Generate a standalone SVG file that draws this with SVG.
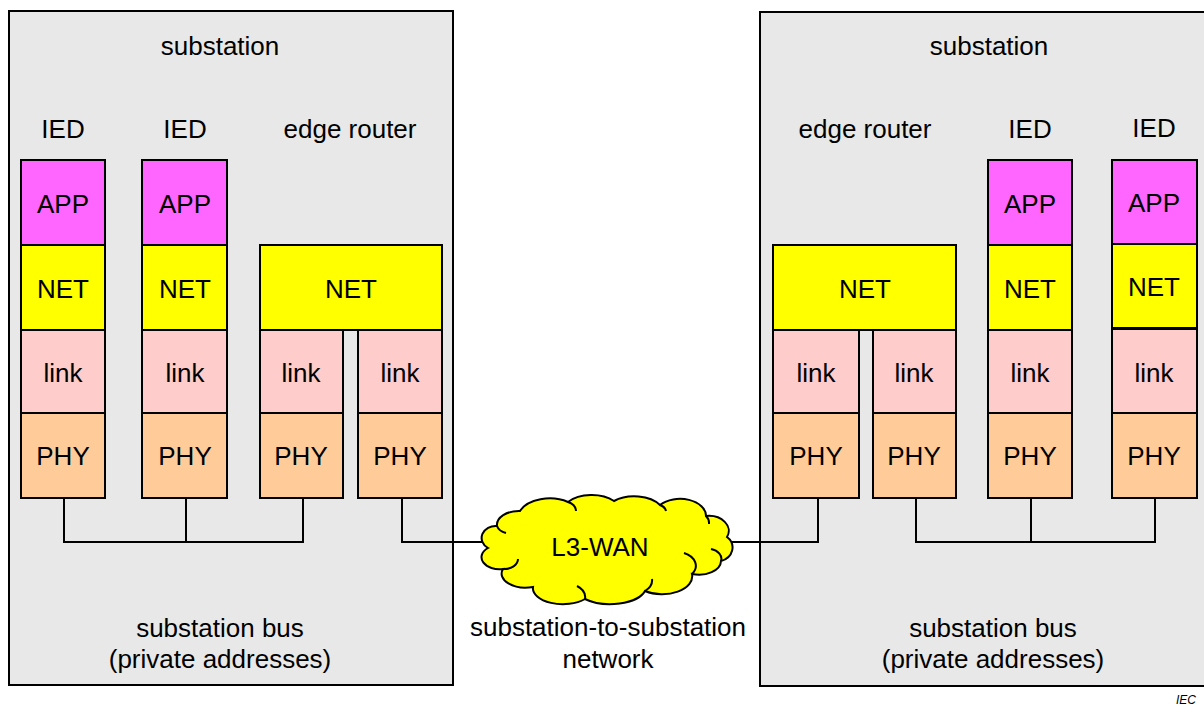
<svg xmlns="http://www.w3.org/2000/svg" width="1204" height="706" viewBox="0 0 1204 706">
<style>
text{font-family:"Liberation Sans",Arial,sans-serif;font-size:26px;fill:#000;text-anchor:middle}
.box{fill:#e8e8e8;stroke:#000;stroke-width:2}
.app{fill:#ff66ff;stroke:#000;stroke-width:2}
.net{fill:#ffff00;stroke:#000;stroke-width:2}
.lnk{fill:#ffcccc;stroke:#000;stroke-width:2}
.phy{fill:#ffcc99;stroke:#000;stroke-width:2}
.wire{fill:none;stroke:#000;stroke-width:2}
.iec{font-size:12px;font-style:italic;text-anchor:start}
</style>
<rect width="1204" height="706" fill="#fff"/>
<g id="substation-left">
<rect class="box" x="9" y="11" width="444" height="674"/>
<text x="220" y="55">substation</text>
<text x="220" y="637">substation bus</text>
<text x="220" y="668">(private addresses)</text>
</g>
<g id="substation-right">
<rect class="box" x="760" y="12" width="460" height="674"/>
<text x="989" y="55">substation</text>
<text x="993" y="637">substation bus</text>
<text x="993" y="668">(private addresses)</text>
</g>
<g id="connectors">
<path class="wire" d="M64,498V542H303V498M186,498V542M402,498V542H490M730,542H818V498M916,498V542H1155V498M1031,498V542"/>
</g>
<g id="ied-l1">
<text x="63" y="138">IED</text>
<rect class="app" x="21" y="160" width="84" height="85"/><text x="63" y="213">APP</text>
<rect class="net" x="21" y="245" width="84" height="85"/><text x="63" y="298">NET</text>
<rect class="lnk" x="21" y="330" width="84" height="83"/><text x="63" y="382">link</text>
<rect class="phy" x="21" y="413" width="84" height="85"/><text x="63" y="465">PHY</text>
</g>
<g id="ied-l2">
<text x="185" y="138">IED</text>
<rect class="app" x="142" y="160" width="85" height="85"/><text x="185" y="213">APP</text>
<rect class="net" x="142" y="245" width="85" height="85"/><text x="185" y="298">NET</text>
<rect class="lnk" x="142" y="330" width="85" height="83"/><text x="185" y="382">link</text>
<rect class="phy" x="142" y="413" width="85" height="85"/><text x="185" y="465">PHY</text>
</g>
<g id="router-l">
<text x="350" y="138">edge router</text>
<rect class="net" x="260" y="245" width="182" height="85"/><text x="351" y="298">NET</text>
<rect class="lnk" x="260" y="330" width="83" height="83"/><text x="301" y="382">link</text>
<rect class="phy" x="260" y="413" width="83" height="85"/><text x="301" y="465">PHY</text>
<rect class="lnk" x="358" y="330" width="84" height="83"/><text x="400" y="382">link</text>
<rect class="phy" x="358" y="413" width="84" height="85"/><text x="400" y="465">PHY</text>
</g>
<g id="router-r">
<text x="865" y="138">edge router</text>
<rect class="net" x="773" y="245" width="183" height="85"/><text x="865" y="298">NET</text>
<rect class="lnk" x="773" y="330" width="86" height="83"/><text x="816" y="382">link</text>
<rect class="phy" x="773" y="413" width="86" height="85"/><text x="816" y="465">PHY</text>
<rect class="lnk" x="873" y="330" width="83" height="83"/><text x="914" y="382">link</text>
<rect class="phy" x="873" y="413" width="83" height="85"/><text x="914" y="465">PHY</text>
</g>
<g id="ied-r1">
<text x="1030" y="138">IED</text>
<rect class="app" x="988" y="160" width="84" height="85"/><text x="1030" y="213">APP</text>
<rect class="net" x="988" y="245" width="84" height="85"/><text x="1030" y="298">NET</text>
<rect class="lnk" x="988" y="330" width="84" height="83"/><text x="1030" y="382">link</text>
<rect class="phy" x="988" y="413" width="84" height="85"/><text x="1030" y="465">PHY</text>
</g>
<g id="ied-r2">
<text x="1154" y="137">IED</text>
<rect class="app" x="1112" y="160" width="85" height="84"/><text x="1154" y="212">APP</text>
<rect class="net" x="1112" y="244" width="85" height="84"/><text x="1154" y="296">NET</text>
<rect class="lnk" x="1112" y="329" width="85" height="84"/><text x="1154" y="382">link</text>
<rect class="phy" x="1112" y="413" width="85" height="85"/><text x="1154" y="465">PHY</text>
<line x1="1111" y1="328.5" x2="1198" y2="328.5" stroke="#000" stroke-width="3"/>
</g>
<g id="wan">
<path d="M497,526 A22,14 0 0 1 520,511 A32,20 0 0 1 568,502 A30,18 0 0 1 614,501 A30,18 0 0 1 660,505 A26,17 0 0 1 706,516 A20,15 0 0 1 727,537 A16,14 0 0 1 721,561 A22,14 0 0 1 692,574 A30,18 0 0 1 645,591 A36,18 0 0 1 585,599 A30,16 0 0 1 533,587 A24,14 0 0 1 503,569 A18,12 0 0 1 488,548 A14,12 0 0 1 497,526 Z" fill="#ffff00" stroke="#000" stroke-width="2"/>
<path d="M497,526 A14,10 0 0 0 506,533 M503,569 A14,10 0 0 0 518,559 M585,599 A20,14 0 0 0 577,586 M645,591 A20,14 0 0 0 652,579 M692,574 A20,14 0 0 0 684,553 M721,561 A14,10 0 0 0 711,549 M706,516 A10,10 0 0 1 709,524 M660,505 A10,8 0 0 1 666,511 M568,502 A12,10 0 0 1 576,511" fill="none" stroke="#000" stroke-width="2"/>
<text x="600" y="556">L3-WAN</text>
<text x="608" y="636">substation-to-substation</text>
<text x="608" y="668">network</text>
</g>
<text class="iec" x="1176" y="704">IEC</text>
</svg>
